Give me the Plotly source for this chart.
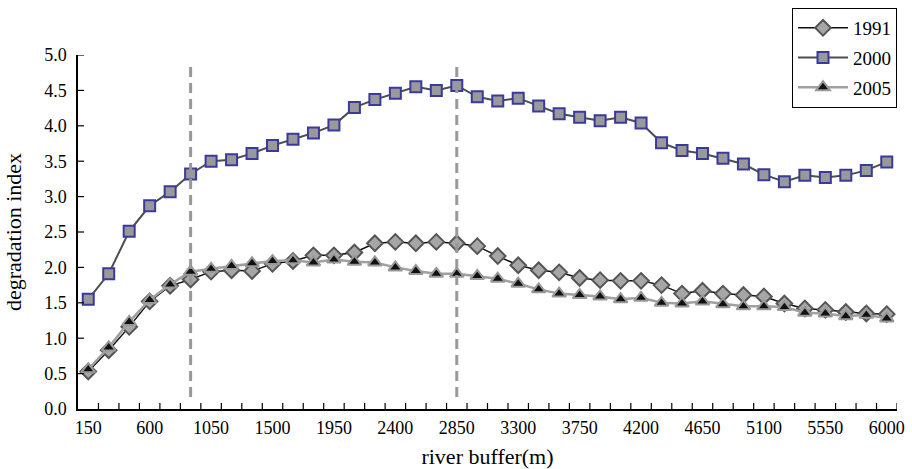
import plotly.graph_objects as go

buffer_m = list(range(150, 6001, 150))

idx_1991 = [0.53, 0.83, 1.16, 1.52, 1.74, 1.83, 1.94, 1.96, 1.95, 2.05,
            2.09, 2.17, 2.17, 2.21, 2.34, 2.36, 2.34, 2.36, 2.34, 2.30,
            2.16, 2.03, 1.96, 1.93, 1.85, 1.82, 1.81, 1.81, 1.75, 1.63,
            1.67, 1.63, 1.61, 1.59, 1.49, 1.42, 1.40, 1.37, 1.35, 1.34]

idx_2000 = [1.55, 1.91, 2.51, 2.87, 3.07, 3.32, 3.50, 3.52, 3.61, 3.72,
            3.81, 3.90, 4.01, 4.26, 4.37, 4.46, 4.55, 4.50, 4.57, 4.41,
            4.35, 4.39, 4.28, 4.17, 4.12, 4.07, 4.12, 4.04, 3.76, 3.65,
            3.61, 3.54, 3.46, 3.31, 3.21, 3.30, 3.27, 3.30, 3.37, 3.49]

idx_2005 = [0.56, 0.87, 1.23, 1.54, 1.76, 1.94, 1.98, 2.02, 2.06, 2.09,
            2.10, 2.07, 2.11, 2.08, 2.07, 2.00, 1.95, 1.91, 1.91, 1.88,
            1.84, 1.77, 1.69, 1.63, 1.61, 1.59, 1.55, 1.57, 1.50, 1.49,
            1.52, 1.48, 1.45, 1.45, 1.44, 1.36, 1.35, 1.31, 1.33, 1.28]

tick_labels = [150, 600, 1050, 1500, 1950, 2400, 2850, 3300, 3750, 4200,
               4650, 5100, 5550, 6000]
y_ticks = [0.5 * k for k in range(11)]
dashed_at = [900, 2850]

FONT = "Liberation Serif, Times New Roman, serif"
STEP = buffer_m[1] - buffer_m[0]
X_RANGE = [buffer_m[0] - STEP / 2, buffer_m[-1] + STEP / 2]
boundaries = [b - STEP / 2 for b in buffer_m] + [buffer_m[-1] + STEP / 2]

W, H = 912, 469
M = dict(l=78, r=15, t=55, b=60)
PLOT_W = W - M["l"] - M["r"]
PLOT_H = H - M["t"] - M["b"]
TICK_PX = 6

fig = go.Figure()

fig.add_trace(go.Scatter(
    x=buffer_m, y=idx_1991, name="1991", mode="lines+markers",
    line=dict(color="#111111", width=1.5),
    marker=dict(symbol="diamond", size=12, color="#a6a6a6",
                line=dict(color="#555555", width=2)),
    legendgroup="a"))
fig.add_trace(go.Scatter(
    x=buffer_m, y=idx_2000, name="2000", mode="lines+markers",
    line=dict(color="#4d4d4d", width=2),
    marker=dict(symbol="square", size=11, color="#999999",
                line=dict(color="#3a3a9e", width=2)),
    legendgroup="b"))
fig.add_trace(go.Scatter(
    x=buffer_m, y=idx_2005, name="2005", mode="lines+markers",
    line=dict(color="#a0a0a0", width=2.5),
    marker=dict(symbol="triangle-up", size=12, color="#111111",
                line=dict(color="#999999", width=2)),
    legendgroup="c"))

for xv in dashed_at:
    fig.add_shape(type="line", xref="x", yref="y", x0=xv, x1=xv,
                  y0=0.17, y1=4.88,
                  line=dict(color="#999999", width=3, dash="10px,6px"))

# inside tick marks at category boundaries and at the y tick values
for b in boundaries[1:]:
    fig.add_shape(type="line", xref="x", yref="paper", x0=b, x1=b,
                  y0=0, y1=TICK_PX / PLOT_H,
                  line=dict(color="black", width=1.2))
for yv in y_ticks[1:]:
    fig.add_shape(type="line", xref="paper", yref="y", x0=0,
                  x1=TICK_PX / PLOT_W, y0=yv, y1=yv,
                  line=dict(color="black", width=1.2))

fig.update_layout(
    width=W, height=H,
    margin=dict(**M, autoexpand=False),
    plot_bgcolor="white", paper_bgcolor="white",
    font=dict(family=FONT, size=18, color="black"),
    showlegend=True,
    legend=dict(x=1.0, xanchor="right", xref="paper",
                y=0.983, yanchor="top", yref="container",
                bordercolor="black", borderwidth=1, bgcolor="white",
                font=dict(family=FONT, size=19), itemwidth=50,
                tracegroupgap=2, traceorder="grouped"),
    xaxis=dict(
        range=X_RANGE, tickmode="array", tickvals=tick_labels,
        ticktext=[str(t) for t in tick_labels],
        ticks="", ticklabelstandoff=2,
        showline=True, linecolor="black", linewidth=1.5,
        showgrid=False, zeroline=False,
        title=dict(text="river buffer(m)", font=dict(family=FONT, size=22),
                   standoff=14),
    ),
    yaxis=dict(
        range=[0, 5], tickmode="array", tickvals=y_ticks,
        ticktext=[f"{v:.1f}" for v in y_ticks],
        ticks="", ticklabelstandoff=6,
        showline=True, linecolor="black", linewidth=1.5,
        showgrid=False, zeroline=False,
        title=dict(text="degradation index", font=dict(family=FONT, size=22),
                   standoff=16),
    ),
)

fig.write_html("out.html")
